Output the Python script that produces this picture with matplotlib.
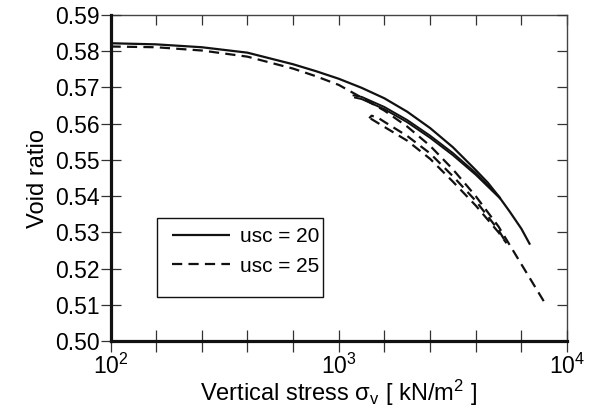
import numpy as np
import matplotlib
matplotlib.use("Agg")
import matplotlib.pyplot as plt
from matplotlib.ticker import FixedLocator, NullLocator, FuncFormatter
from matplotlib.patches import Rectangle

plt.rcParams['font.family'] = ['Liberation Sans', 'DejaVu Sans']
plt.rcParams['mathtext.fontset'] = 'custom'
plt.rcParams['mathtext.rm'] = 'Liberation Sans'
plt.rcParams['mathtext.it'] = 'Liberation Sans:italic'
plt.rcParams['mathtext.bf'] = 'Liberation Sans:bold'

# ---- data (vertical stress kN/m2, void ratio) ----
# usc = 20 : virgin loading curve
s20_load = [100, 158, 251, 398, 631, 794, 1000, 1259, 1585, 1995, 2512, 3162, 3981, 4500, 5012, 5600, 6310, 6887]
e20_load = [0.5822, 0.5819, 0.5811, 0.5796, 0.5764, 0.5745, 0.5724, 0.5699, 0.5670, 0.5633,
            0.5588, 0.5535, 0.5472, 0.5437, 0.5400, 0.5358, 0.5310, 0.5266]
# usc = 20 : unloading / reloading branches
s20_unl = [1178, 1259, 1585, 1995, 2512, 3162, 3981, 5081]
e20_unl = [0.5672, 0.5668, 0.5640, 0.5604, 0.5561, 0.5513, 0.5459, 0.5394]
s20_rel = [1161, 1259, 1585, 1995, 2512, 3162, 3981, 5081]
e20_rel = [0.5678, 0.5674, 0.5646, 0.5610, 0.5567, 0.5519, 0.5464, 0.5396]

# usc = 25 : virgin loading curve
s25_load = [100, 158, 251, 398, 631, 794, 1000, 1259, 1585, 1995, 2512, 3162, 3981, 5012,
            6310, 7943, 8000]
e25_load = [0.5813, 0.5811, 0.5802, 0.5785, 0.5752, 0.5731, 0.5707, 0.5672, 0.5636, 0.5592,
            0.5539, 0.5474, 0.5400, 0.5316, 0.5212, 0.5108, 0.5102]
# usc = 25 : unloading / reloading branches
s25_unl = [1380, 1585, 1995, 2512, 3162, 3981, 5012, 5433]
e25_unl = [0.5614, 0.5591, 0.5553, 0.5503, 0.5440, 0.5374, 0.5300, 0.5270]
s25_rel = [1360, 1393, 1489, 1585, 1995, 2512, 3162, 3981, 5012, 5433]
e25_rel = [0.5615, 0.5622, 0.5616, 0.5605, 0.5566, 0.5518, 0.5455, 0.5387, 0.5306, 0.5270]

legend_labels = ['usc = 20', 'usc = 25']
y_ticks = [0.50, 0.51, 0.52, 0.53, 0.54, 0.55, 0.56, 0.57, 0.58, 0.59]

# ---- figure ----
W, H = 594, 409
fig = plt.figure(figsize=(W / 100, H / 100), dpi=100)
L, R, T, B = 110.5, 567, 15, 341
ax = fig.add_axes([L / W, 1 - B / H, (R - L) / W, (B - T) / H])

col = '#111111'
dash = (0, (4.6, 2.8))
lw_main = 1.6
ax.plot(s20_load, e20_load, color=col, lw=lw_main, solid_capstyle='butt',
        solid_joinstyle='round', label=legend_labels[0])
ax.plot(s20_unl, e20_unl, color=col, lw=1.4, solid_joinstyle='round')
ax.plot(s20_rel, e20_rel, color=col, lw=1.4, solid_joinstyle='round')
ax.plot(s25_load, e25_load, color=col, lw=lw_main, linestyle=dash, dash_capstyle='butt',
        label=legend_labels[1])
ax.plot(s25_unl, e25_unl, color=col, lw=lw_main, linestyle=dash, dash_capstyle='butt')
ax.plot(s25_rel, e25_rel, color=col, lw=lw_main, linestyle=(2, (4.6, 2.8)), dash_capstyle='butt')

ax.set_xscale('log')
ax.set_xlim(100, 10000)
ax.set_ylim(0.50, 0.59)

xt = list(10 ** np.linspace(2, 4, 11))
ax.xaxis.set_major_locator(FixedLocator(xt))
ax.xaxis.set_minor_locator(NullLocator())

def xfmt(v, pos):
    k = np.log10(v)
    if abs(k - round(k)) < 1e-6:
        return r'$\mathdefault{10^{%d}}$' % round(k)
    return ''
ax.xaxis.set_major_formatter(FuncFormatter(xfmt))
ax.set_yticks(y_ticks)
ax.set_yticklabels(['%.2f' % v for v in y_ticks])

fs_tick = 16.5
fs_lab = 17
ax.tick_params(axis='x', which='major', direction='inout', length=16, width=0.9, color='#333333',
               labelsize=fs_tick, pad=1, top=False)
ax.tick_params(axis='y', which='major', direction='inout', length=14, width=0.9, color='#333333',
               labelsize=fs_tick, pad=1, right=False)

for s in ['left', 'bottom']:
    ax.spines[s].set_linewidth(2.3)
    ax.spines[s].set_color('#111111')
for s in ['top', 'right']:
    ax.spines[s].set_visible(False)

secx = ax.secondary_xaxis('top')
secx.xaxis.set_major_locator(FixedLocator(xt))
secx.xaxis.set_minor_locator(NullLocator())
secx.tick_params(direction='in', length=7, width=0.9, color='#333333', labeltop=False)
secx.spines['top'].set_linewidth(1.0)
secx.spines['top'].set_color('#444444')

secy = ax.secondary_yaxis('right')
secy.set_yticks(y_ticks)
secy.yaxis.set_minor_locator(NullLocator())
secy.tick_params(direction='in', length=7, width=0.9, color='#333333', labelright=False)
secy.spines['right'].set_linewidth(1.0)
secy.spines['right'].set_color('#444444')

ax.set_xlabel('Vertical stress σ$_\\mathrm{v}$ [ kN/m$^2$ ]', fontsize=fs_lab, labelpad=-0.5)
ax.set_ylabel('Void ratio', fontsize=fs_lab, labelpad=4)

# legend box
bx0 = (157 - L) / (R - L)
by0 = (B - 297) / (B - T)
bx1 = (323 - L) / (R - L)
by1 = (B - 218) / (B - T)
ax.add_patch(Rectangle((bx0, by0), bx1 - bx0, by1 - by0, transform=ax.transAxes,
                       facecolor='white', edgecolor='#111111', lw=1.0, zorder=4))
lx = (162.5 - L) / (R - L)
leg = ax.legend(loc='upper left', bbox_to_anchor=(lx, by1), frameon=False, fontsize=15,
                handlelength=2.8, handletextpad=0.48, borderpad=0.45, borderaxespad=0,
                labelspacing=0.5)
leg.set_zorder(5)

fig.savefig('out.png', dpi=100)
